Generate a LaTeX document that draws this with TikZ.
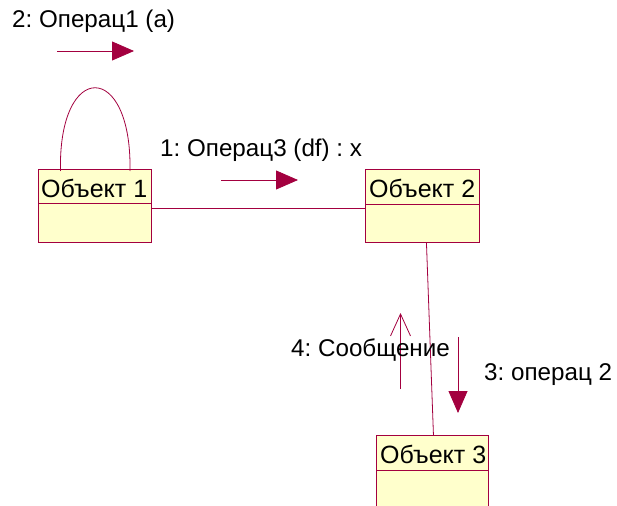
\documentclass[tikz,border=0pt]{standalone}
\usepackage{fontspec}
\setmainfont{Liberation Sans}
\usetikzlibrary{arrows.meta}
\frenchspacing
\definecolor{umlline}{HTML}{A3003F}
\definecolor{umlfill}{HTML}{FFFFCC}
\tikzset{
  objbox/.style={draw=umlline, fill=umlfill, line width=0.9bp, inner sep=0, anchor=north west},
  objtext/.style={anchor=west, inner sep=0, font=\fontsize{25bp}{27bp}\selectfont},
  lbl/.style={anchor=west, inner sep=0, font=\fontsize{24.2bp}{26bp}\selectfont},
  link/.style={draw=umlline, line width=0.8bp},
  msgfill/.style={draw=umlline, line width=0.8bp, -{Triangle[length=22bp,width=19bp]}},
  msgopen/.style={draw=umlline, line width=0.8bp, -{Straight Barb[length=22bp,width=20bp]}},
}
\begin{document}
\begin{tikzpicture}[x=1bp,y=-1bp]
\useasboundingbox (0,0) rectangle (617,506);
\clip (0,0) rectangle (617,506);
\fill[white] (0,0) rectangle (617,506);
% objects
\node[objbox, minimum width=113bp, minimum height=73bp] (o1) at (38,169) {};
\node[objbox, minimum width=114bp, minimum height=73bp] (o2) at (365,169) {};
\node[objbox, minimum width=112bp, minimum height=90bp] (o3) at (376,435) {};
\draw[link] ([yshift=-34bp]o1.north west) -- ([yshift=-34bp]o1.north east);
\draw[link] ([yshift=-35bp]o2.north west) -- ([yshift=-35bp]o2.north east);
\draw[link] ([yshift=-35bp]o3.north west) -- ([yshift=-35bp]o3.north east);
\node[objtext] (t1) at (41,188) {Объект 1};
\node[objtext] (t2) at (369,188) {Объект 2};
\node[objtext] (t3) at (380,454) {Объект 3};
% links
\draw[link] ([yshift=-39bp]o1.north east) -- ([yshift=-39bp]o2.north west);
\draw[link] ([xshift=4bp]o2.south) -- ([xshift=1bp]o3.north);
\coordinate (la) at (60.5,171);
\coordinate (lb) at (130,171);
\draw[link] (la) .. controls (58,60) and (132,60) .. (lb);
% messages
\coordinate (m2a) at (57,51); \coordinate (m2b) at (134,51);
\draw[msgfill] (m2a) -- (m2b);
\node[lbl] (l2) at (12,21) {2: Операц1 (a)};
\coordinate (m1a) at (221,180); \coordinate (m1b) at (298,180);
\draw[msgfill] (m1a) -- (m1b);
\node[lbl] (l1) at (160,150) {1: Операц3 (df) : x};
\coordinate (m4a) at (400.5,389); \coordinate (m4b) at (400.5,313);
\draw[msgopen] (m4a) -- (m4b);
\node[lbl] (l4) at (291,350) {4: Сообщение};
\coordinate (m3a) at (458,337); \coordinate (m3b) at (458,413);
\draw[msgfill] (m3a) -- (m3b);
\node[lbl] (l3) at (484,375) {3: операц 2};
\end{tikzpicture}
\end{document}
